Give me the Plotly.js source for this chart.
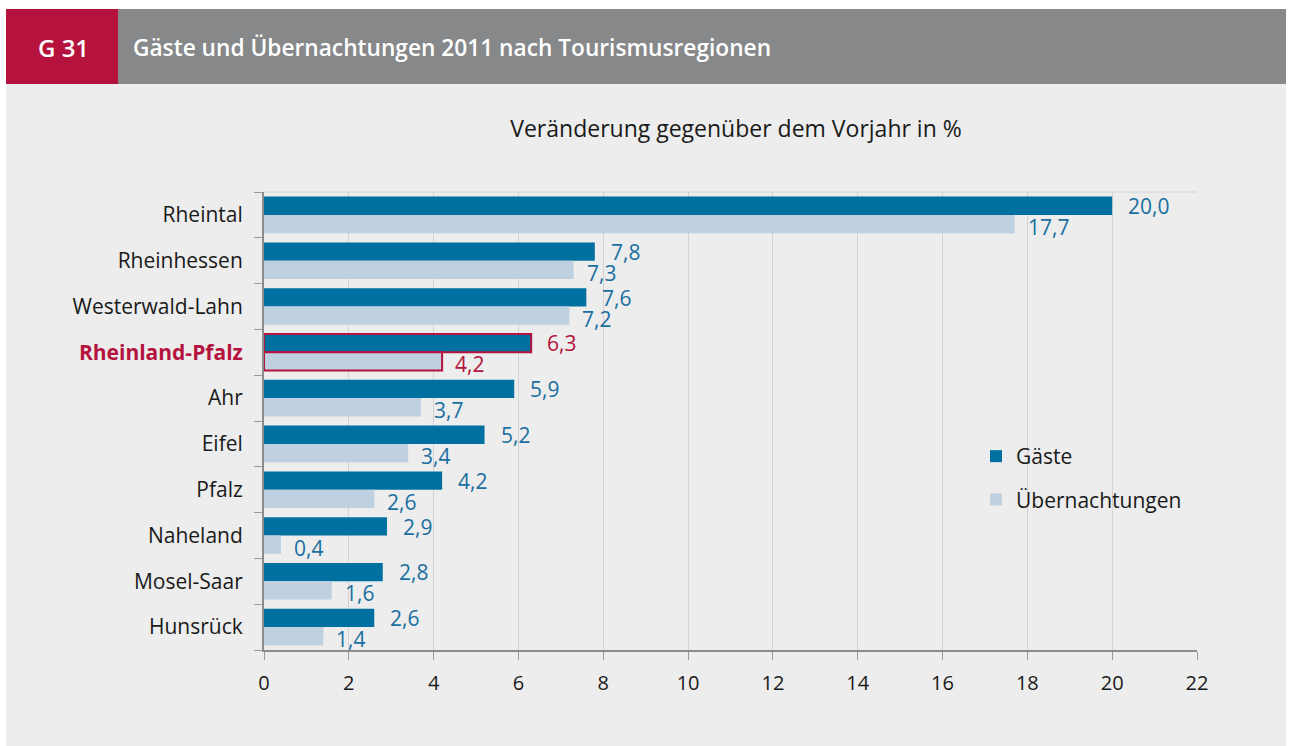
<!DOCTYPE html>
<html>
<head>
<meta charset="utf-8">
<script src="https://cdn.plot.ly/plotly-3.0.1.min.js"></script>
<style>
  html, body { margin: 0; padding: 0; background: #ffffff; }
  #chart { width: 1292px; height: 746px; }
</style>
</head>
<body>
<div id="chart"></div>
<script>
// ---- data ----
const categories = ['Rheintal', 'Rheinhessen', 'Westerwald-Lahn', 'Rheinland-Pfalz', 'Ahr', 'Eifel', 'Pfalz', 'Naheland', 'Mosel-Saar', 'Hunsrück'];
const gaeste = [20.0, 7.8, 7.6, 6.3, 5.9, 5.2, 4.2, 2.9, 2.8, 2.6];
const uebernachtungen = [17.7, 7.3, 7.2, 4.2, 3.7, 3.4, 2.6, 0.4, 1.6, 1.4];
const seriesNames = ['Gäste', 'Übernachtungen'];
const xTicks = [0, 2, 4, 6, 8, 10, 12, 14, 16, 18, 20, 22];
const highlight = 'Rheinland-Pfalz';
const headerNo = 'G 31';
const headerTitle = 'Gäste und Übernachtungen 2011 nach Tourismusregionen';
const subTitle = 'Veränderung gegenüber dem Vorjahr in %';

// ---- style ----
const FONT = 'Open Sans, Noto Sans, sans-serif';
const RED = '#B5133D';
const GREY_HDR = '#87888A';
const BG = '#ECEDEC';
const DARK = '#0070A1';
const LIGHT = '#BFD0E0';
const LBL = '#1A6FA0';
const TXT = '#1a1a1a';

const W = 1292, H = 746;
const M = { l: 264, r: 95, t: 192, b: 96 };
const PW = W - M.l - M.r, PH = H - M.t - M.b;
const xp = px => (px - M.l) / PW;
const yp = py => (H - M.b - py) / PH;

const fmt = v => v.toFixed(1).replace('.', ',');
const isHi = categories.map(c => c === highlight);

const traces = [
  {
    type: 'bar', orientation: 'h', name: seriesNames[0], legendgroup: 'g1',
    y: categories, x: gaeste,
    marker: { color: DARK, line: { color: isHi.map(h => h ? RED : 'rgba(0,0,0,0)'), width: isHi.map(h => h ? 2 : 0) } },
    hoverinfo: 'x+y'
  },
  {
    type: 'bar', orientation: 'h', name: seriesNames[1], legendgroup: 'g2',
    y: categories, x: uebernachtungen,
    marker: { color: LIGHT, line: { color: isHi.map(h => h ? RED : 'rgba(0,0,0,0)'), width: isHi.map(h => h ? 2 : 0) } },
    hoverinfo: 'x+y'
  }
];

const annotations = [];
categories.forEach((c, i) => {
  const col = isHi[i] ? RED : LBL;
  annotations.push({ x: gaeste[i], y: c, xref: 'x', yref: 'y', text: fmt(gaeste[i]), showarrow: false,
    xanchor: 'left', yanchor: 'middle', xshift: 14, yshift: 9, font: { family: FONT, size: 21, color: col } });
  annotations.push({ x: uebernachtungen[i], y: c, xref: 'x', yref: 'y', text: fmt(uebernachtungen[i]), showarrow: false,
    xanchor: 'left', yanchor: 'middle', xshift: 11, yshift: -12, font: { family: FONT, size: 21, color: col } });
});
// header texts
annotations.push({ xref: 'paper', yref: 'paper', x: xp(63), y: yp(47), text: headerNo, showarrow: false,
  xanchor: 'center', yanchor: 'middle', font: { family: FONT, size: 24, color: '#ffffff', weight: 600 } });
annotations.push({ xref: 'paper', yref: 'paper', x: xp(131), y: yp(47), text: headerTitle, showarrow: false,
  xanchor: 'left', yanchor: 'middle', font: { family: FONT, size: 22.7, color: '#ffffff', weight: 600 } });

const shapes = [
  { type: 'rect', xref: 'paper', yref: 'paper', x0: xp(6), x1: xp(1286), y0: yp(746), y1: yp(84), fillcolor: BG, line: { width: 0 }, layer: 'below' },
  { type: 'rect', xref: 'paper', yref: 'paper', x0: xp(6), x1: xp(118), y0: yp(84), y1: yp(9), fillcolor: RED, line: { width: 0 }, layer: 'below' },
  { type: 'rect', xref: 'paper', yref: 'paper', x0: xp(118), x1: xp(1286), y0: yp(84), y1: yp(9), fillcolor: GREY_HDR, line: { width: 0 }, layer: 'below' },
  { type: 'line', xref: 'paper', yref: 'paper', x0: 0, x1: 1, y0: 1, y1: 1, line: { color: '#D3D3D3', width: 1 }, layer: 'below' }
];

const layout = {
  width: W, height: H,
  margin: M,
  paper_bgcolor: '#ffffff',
  plot_bgcolor: 'rgba(0,0,0,0)',
  font: { family: FONT, size: 21, color: TXT },
  title: { text: subTitle, x: 736 / W, xref: 'container', xanchor: 'center', y: 1 - 129 / H, yref: 'container', yanchor: 'middle',
    font: { family: FONT, size: 23, color: TXT } },
  barmode: 'group', bargap: 0.2, bargroupgap: 0,
  showlegend: true,
  legend: { x: xp(976), y: yp(436), xanchor: 'left', yanchor: 'top', bgcolor: 'rgba(0,0,0,0)', tracegroupgap: 13,
    font: { family: FONT, size: 21, color: TXT }, itemclick: false, itemdoubleclick: false, traceorder: 'grouped' },
  xaxis: {
    range: [0, 22], tickvals: xTicks, ticktext: xTicks.map(String),
    showgrid: true, gridcolor: '#D3D3D3', gridwidth: 1, zeroline: false,
    showline: true, linecolor: '#8C8C8C', linewidth: 2,
    ticks: 'outside', ticklen: 8, tickcolor: '#9A9A9A', tickwidth: 1,
    ticklabelstandoff: 6,
    tickfont: { family: FONT, size: 20, color: TXT }, fixedrange: true
  },
  yaxis: {
    type: 'category', range: [categories.length - 0.5, -0.5],
    tickvals: categories,
    ticktext: categories.map((c, i) => isHi[i] ? '<b><span style="color:' + RED + '">' + c + '</span></b>' : c),
    showline: true, linecolor: '#8C8C8C', linewidth: 2,
    ticks: 'outside', tickson: 'boundaries', ticklen: 8, tickcolor: '#9A9A9A', tickwidth: 1,
    ticklabelstandoff: 15,
    showgrid: false, zeroline: false,
    tickfont: { family: FONT, size: 21, color: TXT }, fixedrange: true
  },
  shapes: shapes,
  annotations: annotations
};

Plotly.newPlot('chart', traces, layout, { displayModeBar: false, staticPlot: false });
</script>
</body>
</html>
